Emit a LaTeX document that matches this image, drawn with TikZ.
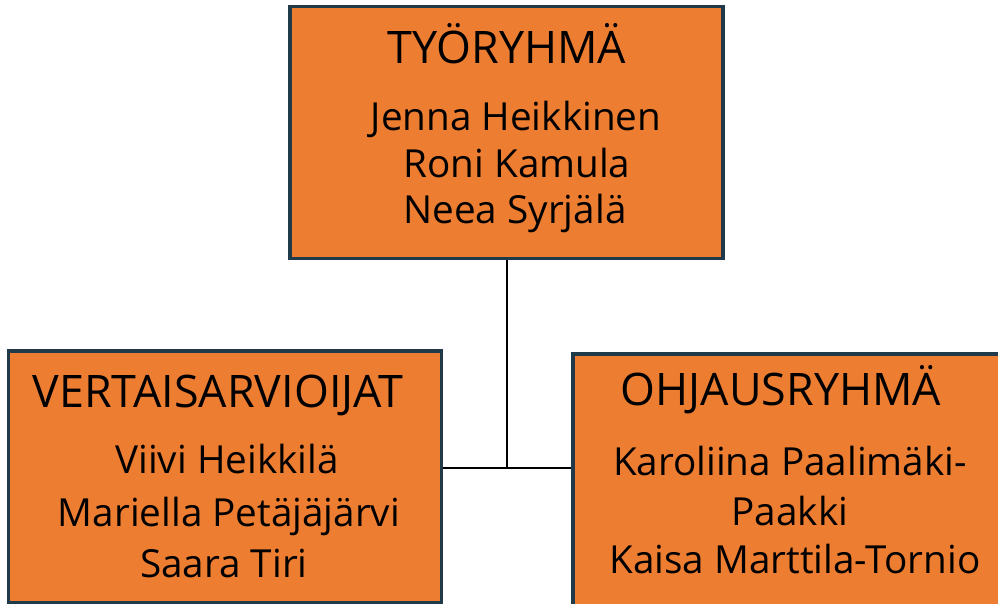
\documentclass[tikz,border=0pt]{standalone}
\usepackage{fontspec}
\setmainfont{Open Sans}
\definecolor{ryhma}{HTML}{ED7D31}
\definecolor{reuna}{HTML}{203A4A}
\tikzset{
  ryhmabox/.style={draw=reuna, line width=1.8pt, fill=ryhma, inner sep=0pt,
    minimum width=8.66cm, minimum height=5.04cm},
  otsikko/.style={anchor=base, font=\fontsize{25.5}{30}\selectfont},
  nimi/.style={anchor=base, font=\fontsize{22}{26}\selectfont}
}
\begin{document}
\begin{tikzpicture}[x=0.02cm,y=-0.02cm]
      \useasboundingbox (0,0) rectangle (998,603);
      \clip (0,0) rectangle (998,603);
      \draw
        (506.5,132.5) node[ryhmabox] (tyo){}
        (225,477) node[ryhmabox] (vertais){}
        (789.5,480) node[ryhmabox] (ohjaus){};
      \draw
        (507,63) node[otsikko] (tyoots){TYÖRYHMÄ}
        (516,130) node[nimi] (tyo1){Jenna Heikkinen}
        (517,177) node[nimi] (tyo2){Roni Kamula}
        (515,223) node[nimi] (tyo3){Neea Syrjälä}
        (218,407) node[otsikko] (vertaisots){VERTAISARVIOIJAT}
        (227,473) node[nimi] (vertais1){Viivi Heikkilä}
        (229,526) node[nimi] (vertais2){Mariella Petäjäjärvi}
        (224,577) node[nimi] (vertais3){Saara Tiri}
        (781,405) node[otsikko] (ohjausots){OHJAUSRYHMÄ}
        (790,475) node[nimi] (ohjaus1){Karoliina Paalimäki-}
        (790,525) node[nimi] (ohjaus2){Paakki}
        (795,573) node[nimi] (ohjaus3){Kaisa Marttila-Tornio};
      \coordinate (hub) at (507,468);
      \begin{scope}[line width=1.4pt]
        \draw (tyo.south -| hub) -- (hub);
        \draw (vertais.east |- hub) -- (ohjaus.west |- hub);
      \end{scope}
    \end{tikzpicture}
\end{document}
